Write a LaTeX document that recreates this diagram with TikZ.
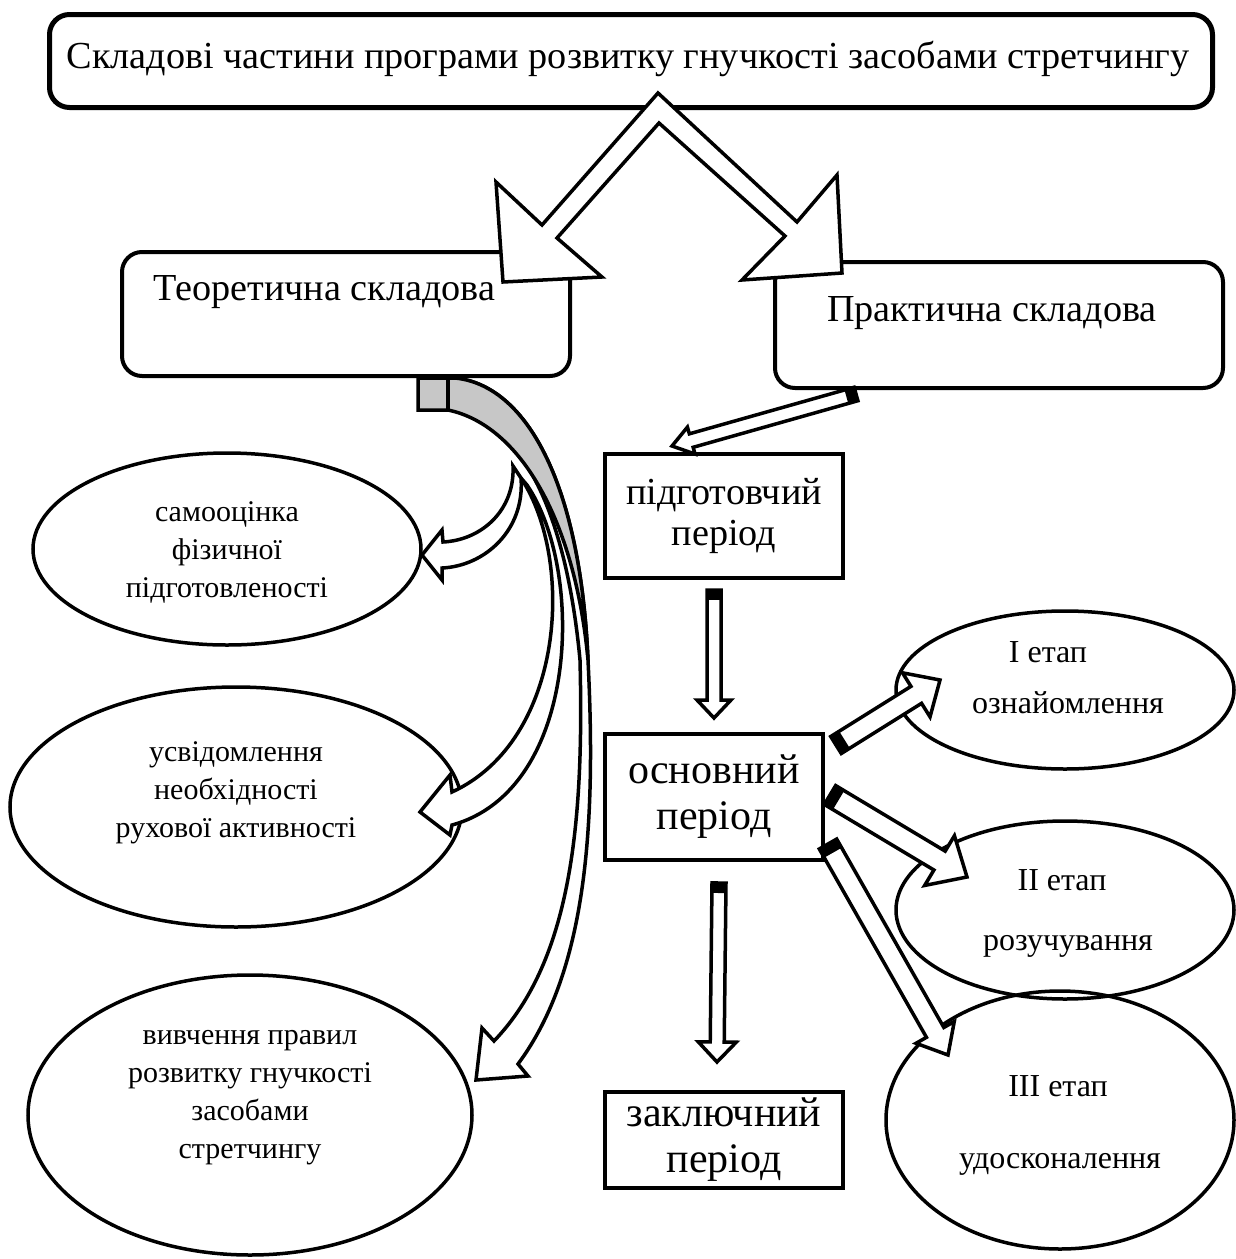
\documentclass[tikz,border=0pt]{standalone}
\usepackage{fontspec}
\setmainfont{Liberation Serif}
\usetikzlibrary{calc,shapes.geometric}
\newcommand{\fsBig}{\fontsize{38.2}{41}\selectfont}
\newcommand{\fsMid}{\fontsize{42}{46}\selectfont}
\newcommand{\fsSm}{\fontsize{30}{38}\selectfont}
\newcommand{\fsXs}{\fontsize{32}{36}\selectfont}
\tikzset{
  rbox/.style={draw, line width=4pt, rounded corners=20pt, fill=white},
  sbox/.style={draw, line width=4pt, fill=white},
  ell/.style={draw, ellipse, line width=3.5pt, inner sep=0pt},
  etxt/.style={align=center, font=\fsSm, inner sep=0pt},
  rtxt/.style={font=\fsXs, inner sep=0pt, anchor=base},
  blk/.style={draw, line width=3.5pt, fill=white, line join=miter},
  barrow/.style={draw, line width=3.5pt, fill=white, line join=miter},
}
\newcommand{\blkarrow}[5]{%
  \coordinate (H) at ($(#2)!#5!(#1)$);
  \coordinate (T) at ($(#1)!10pt!(#2)$);
  \draw[blk] ($(#1)!#3!90:(#2)$) -- ($(H)!#3!90:(#2)$) -- ($(H)!#4!90:(#2)$) -- (#2)
     -- ($(H)!#4!-90:(#2)$) -- ($(H)!#3!-90:(#2)$) -- ($(#1)!#3!-90:(#2)$) -- cycle;
  \fill ($(#1)!#3!90:(#2)$) -- ($(#1)!#3!-90:(#2)$) -- ($(T)!#3!-90:(#2)$) -- ($(T)!#3!90:(#2)$) -- cycle;
}
\begin{document}
\begin{tikzpicture}[x=1pt,y=-1pt]
\fill[white] (0,0) rectangle (1236,1259);
\useasboundingbox (0,0) rectangle (1236,1259);

% boxes
\node[rbox, line width=5pt, minimum width=1163pt, minimum height=93pt] (top) at (631,61) {};
\node[font=\fsBig] (toptxt) at (628,59) {Складові частини програми розвитку гнучкості засобами стретчингу};
\node[rbox, minimum width=448pt, minimum height=124pt] (teor) at (346,314) {};
\node[font=\fsBig, anchor=west] (teortxt) at (150,292) {Теоретична складова};
\node[rbox, minimum width=448pt, minimum height=126pt] (prak) at (999,325) {};
\node[font=\fsBig] (praktxt) at (992,313) {Практична складова};

\node[sbox, minimum width=238pt, minimum height=124pt, align=center, font=\fsBig] (pidg) at (724,516) {підготовчий\\період};
\node[sbox, minimum width=218pt, minimum height=126pt, align=center, font=\fsMid] (osn) at (714,797) {основний\\період};
\node[sbox, minimum width=238pt, minimum height=96pt, align=center, font=\fsMid] (zakl) at (724,1140) {заключний\\період};

% ellipses
\node[ell, minimum width=388pt, minimum height=192pt] (e1) at (227,549) {};
\node[etxt] (e1t) at (227,552) {самооцінка\\фізичної\\підготовленості};
\node[ell, minimum width=452pt, minimum height=240pt] (e2) at (236,807) {};
\node[etxt] (e2t) at (236,793) {усвідомлення\\необхідності\\рухової активності};
\node[ell, minimum width=444pt, minimum height=280pt] (e3) at (250,1115) {};
\node[etxt] (e3t) at (250,1098) {вивчення правил\\розвитку гнучкості\\засобами\\стретчингу};
\node[ell, minimum width=338pt, minimum height=158pt] (r1) at (1065,690) {};
\node[rtxt] (r1a) at (1048,662) {I етап};
\node[rtxt] (r1b) at (1068,713) {ознайомлення};
\node[ell, minimum width=338pt, minimum height=178pt] (r2) at (1065,910) {};
\node[rtxt] (r2a) at (1062,890) {II етап};
\node[rtxt] (r2b) at (1068,950) {розучування};
\node[ell, minimum width=348pt, minimum height=258pt] (r3) at (1060,1120) {};
\node[rtxt] (r3a) at (1058,1096) {III етап};
\node[rtxt] (r3b) at (1060,1168) {удосконалення};

% big chevron double arrow
\draw[barrow] (658,93) -- (542,225) -- (496,182) -- (503,282) -- (602,277) -- (557,238)
  -- (659,123) -- (785,236) -- (742,280) -- (842,273) -- (837,175) -- (797,222) -- cycle;

% curved arrows from theory box
\draw[barrow] (455,378) .. controls (525,385) and (580,480) .. (588,660)
  .. controls (596,820) and (588,970) .. (518,1064) -- (528,1076) -- (476,1080) -- (482,1028) -- (494,1041)
  .. controls (572,960) and (584,820) .. (580,660)
  .. controls (565,500) and (515,415) .. (448,410) -- cycle;
\draw[barrow, fill=black!22] (418,378) -- (455,378) .. controls (525,385) and (580,480) .. (588,660)
  .. controls (575,520) and (520,425) .. (448,410) -- (418,410) -- cycle;
\draw[line width=3.5pt] (448,378) -- (448,410);
\draw[barrow] (521,478) .. controls (575,560) and (565,740) .. (452,792) -- (450,775) -- (420,812)
  -- (450,835) -- (452,825) .. controls (580,790) and (585,570) .. (527,485) -- cycle;
\draw[barrow] (513,466) .. controls (515,510) and (482,540) .. (443,542) -- (442,530) -- (422,555)
  -- (442,580) -- (442,568) .. controls (485,566) and (525,530) .. (521,478) -- cycle;

% straight block arrows
\coordinate (a1s) at (856,394); \coordinate (a1e) at (672,446);
\blkarrow{a1s}{a1e}{7pt}{14pt}{20pt}
\coordinate (a2s) at (714,590); \coordinate (a2e) at (714,718);
\blkarrow{a2s}{a2e}{7pt}{17pt}{18pt}
\coordinate (a3s) at (719,883); \coordinate (a3e) at (717,1062);
\blkarrow{a3s}{a3e}{7pt}{19pt}{20pt}
\coordinate (b1s) at (836,745); \coordinate (b1e) at (940,680);
\blkarrow{b1s}{b1e}{10pt}{26pt}{28pt}
\coordinate (b2s) at (830,795); \coordinate (b2e) at (967,877);
\blkarrow{b2s}{b2e}{11pt}{29pt}{32pt}
\coordinate (b3s) at (828,844); \coordinate (b3e) at (948,1055);
\blkarrow{b3s}{b3e}{10pt}{22pt}{26pt}
\end{tikzpicture}
\end{document}
